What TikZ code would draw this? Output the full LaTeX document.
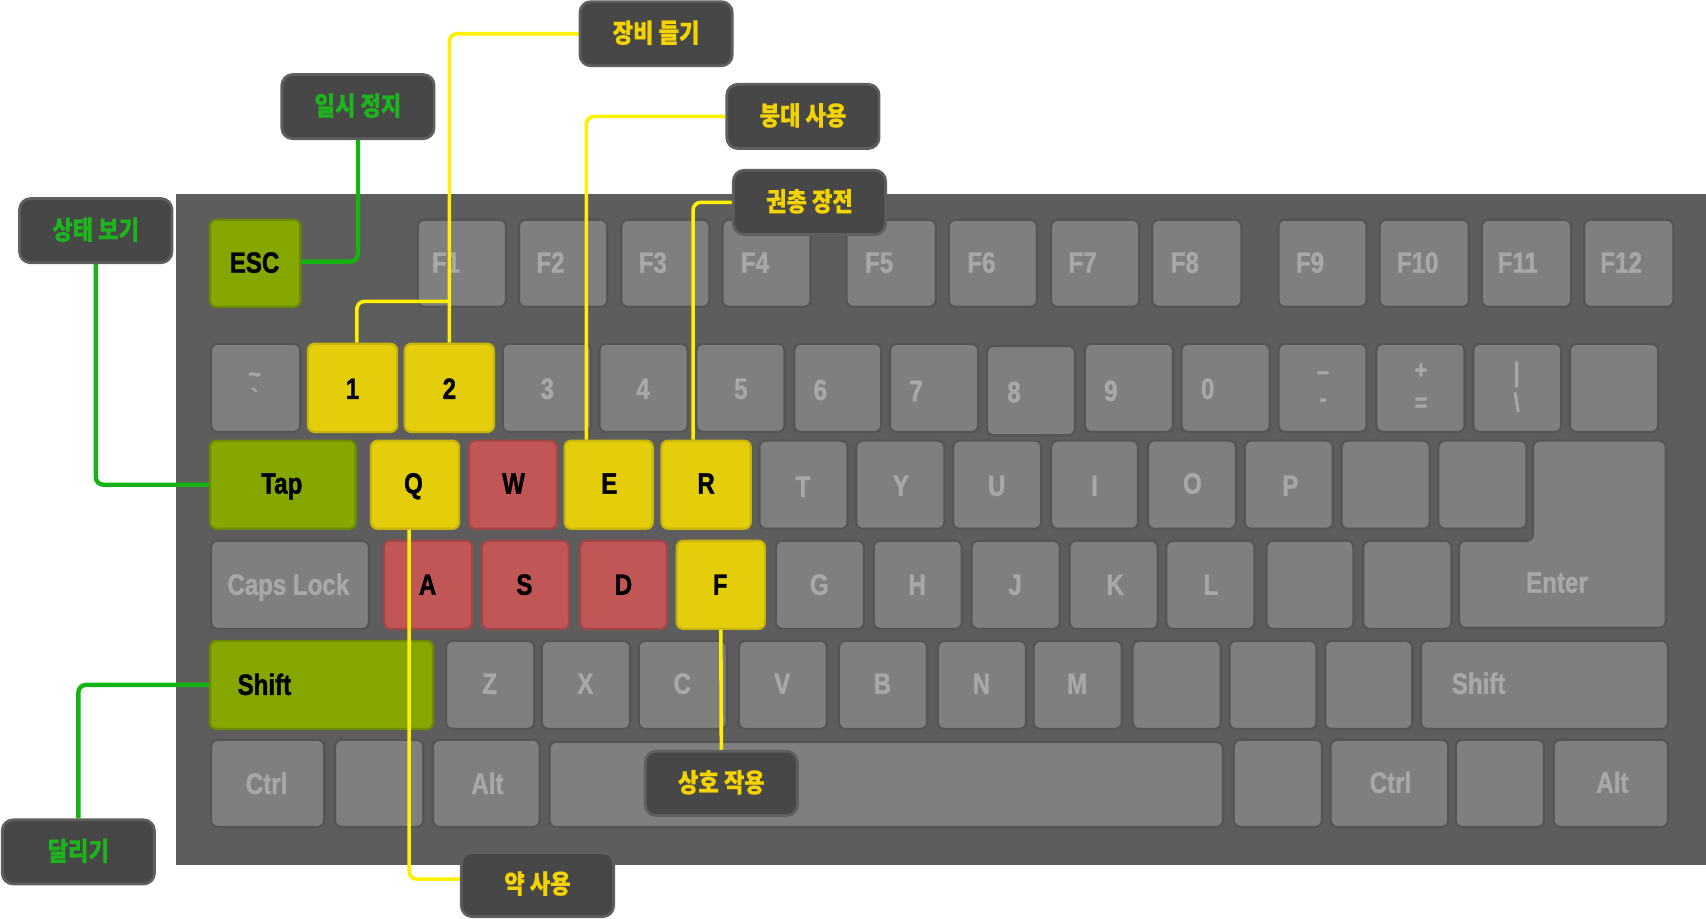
\documentclass[tikz,border=0pt]{standalone}
\usepackage{fontspec}
\newfontfamily\keyf[FakeStretch=0.82,FakeBold=1.2]{Liberation Sans}
\newfontfamily\krf[FakeStretch=0.85,FakeBold=0.6]{Noto Sans CJK KR}
\definecolor{kbbg}{HTML}{5D5D5D}
\definecolor{keyfill}{HTML}{7F7F7F}
\definecolor{keyedge}{HTML}{555555}
\definecolor{keytext}{HTML}{A8A8A8}
\definecolor{gfill}{HTML}{86A600}
\definecolor{gedge}{HTML}{6E8A00}
\definecolor{yfill}{HTML}{E4CE0B}
\definecolor{yedge}{HTML}{C8B40A}
\definecolor{rfill}{HTML}{C15656}
\definecolor{redge}{HTML}{A34646}
\definecolor{cfill}{HTML}{474747}
\definecolor{cedge}{HTML}{5F5F5F}
\definecolor{ytext}{HTML}{F2D200}
\definecolor{gtext}{HTML}{1DB41D}
\definecolor{ylinec}{HTML}{FFF000}
\definecolor{glinec}{HTML}{14B414}
\pgfdeclarelayer{bg}
\pgfdeclarelayer{mid}
\pgfsetlayers{bg,mid,main}
\tikzset{
  key/.style={draw=keyedge, fill=keyfill, line width=2pt, rounded corners=6pt, inner sep=0pt},
  gkey/.style={key, draw=gedge, fill=gfill},
  ykey/.style={key, draw=yedge, fill=yfill},
  rkey/.style={key, draw=redge, fill=rfill},
  key label/.style={font=\keyf\bfseries\fontsize{27}{27}\selectfont, text=keytext, inner sep=0pt, text height=19.3pt, text depth=0pt},
  gkey label/.style={key label, text=black},
  ykey label/.style={key label, text=black},
  rkey label/.style={key label, text=black},
  small label/.style={key label, font=\keyf\bfseries\fontsize{24}{24}\selectfont, text height=12pt},
  call/.style={draw=cedge, fill=cfill, line width=2.5pt, rounded corners=10pt, minimum width=140pt, minimum height=59pt, inner sep=0pt, font=\krf\bfseries\fontsize{24}{24}\selectfont, text height=18pt, text depth=2pt},
  ycall/.style={call, text=ytext},
  gcall/.style={call, text=gtext},
  yl/.style={draw=ylinec, line width=3.3pt, rounded corners=7pt},
  gl/.style={draw=glinec, line width=4pt, rounded corners=7pt},
}
\newcommand\kk[9]{%
  \node[#6, minimum width={#3-#2}, minimum height={#5-#4}] (#1) at ({(#2+#3)/2},{(#4+#5)/2}) {};
  \node[#6 label] at (#8,#9) {#7};}
\newcommand\kb[6]{%
  \node[#6, minimum width={#3-#2}, minimum height={#5-#4}] (#1) at ({(#2+#3)/2},{(#4+#5)/2}) {};}
\begin{document}
\begin{tikzpicture}[x=1pt,y=-1pt]
\useasboundingbox (0,0) rectangle (1568,844);
\begin{pgfonlayer}{bg}
\fill[kbbg] (162,178) rectangle (1568,795);
% row 0
\kk{esc}{193}{276}{202}{282}{gkey}{ESC}{234}{241}
\kk{f1}{384}{465}{202}{282}{key}{F1}{410}{241}
\kk{f2}{477}{558}{202}{282}{key}{F2}{506}{241}
\kk{f3}{571}{652}{202}{282}{key}{F3}{600}{241}
\kk{f4}{664}{745}{202}{282}{key}{F4}{694}{241}
\kk{f5}{778}{860}{202}{282}{key}{F5}{808}{241}
\kk{f6}{872}{953}{202}{282}{key}{F6}{902}{241}
\kk{f7}{966}{1047}{202}{282}{key}{F7}{995}{241}
\kk{f8}{1059}{1141}{202}{282}{key}{F8}{1089}{241}
\kk{f9}{1175}{1256}{202}{282}{key}{F9}{1204}{241}
\kk{f10}{1268}{1350}{202}{282}{key}{F10}{1303}{241}
\kk{f11}{1362}{1444}{202}{282}{key}{F11}{1395}{241}
\kk{f12}{1456}{1538}{202}{282}{key}{F12}{1490}{241}
% row 1
\kb{ktilde}{194}{276}{316}{397}{key}
\node[small label] at (234,346) {\char`\~};
\node[small label] at (234,368) {`};
\kk{k1}{283}{365}{316}{397}{ykey}{1}{324}{357}
\kk{k2}{372}{454}{316}{397}{ykey}{2}{413}{357}
\kk{k3}{462}{543}{316}{397}{key}{3}{503}{357}
\kk{k4}{551}{632}{316}{397}{key}{4}{591}{357}
\kk{k5}{640}{721}{316}{397}{key}{5}{681}{357}
\kk{k6}{730}{810}{316}{397}{key}{6}{754}{358}
\kk{k7}{818}{899}{316}{397}{key}{7}{842}{359}
\kk{k8}{907}{988}{318}{400}{key}{8}{932}{360}
\kk{k9}{997}{1078}{316}{397}{key}{9}{1021}{359}
\kk{k0}{1086}{1167}{316}{397}{key}{0}{1110}{357}
\kb{kminus}{1175}{1256}{316}{397}{key}
\node[small label] at (1216,343) {–};
\node[small label] at (1216,368) {-};
\kb{kplus}{1265}{1346}{316}{397}{key}
\node[small label] at (1306,342) {+};
\node[small label] at (1306,372) {=};
\kb{kbar}{1354}{1435}{316}{397}{key}
\node[small label] at (1394,344) {|};
\node[small label] at (1394,372) {\char`\\};
\kb{kbs}{1443}{1524}{316}{397}{key}
% row 2
\kk{tap}{193}{327}{405}{486}{gkey}{Tap}{259}{444}
\kk{kq}{341}{422}{405}{486}{ykey}{Q}{380}{444}
\kk{kw}{431}{512}{405}{486}{rkey}{W}{472}{444}
\kk{ke}{519}{600}{405}{486}{ykey}{E}{560}{444}
\kk{kr}{608}{690}{405}{486}{ykey}{R}{649}{444}
\kk{kt}{698}{779}{405}{486}{key}{T}{738}{447}
\kk{ky}{787}{868}{405}{486}{key}{Y}{828}{446}
\kk{ku}{876}{957}{405}{486}{key}{U}{916}{446}
\kk{ki}{966}{1046}{405}{486}{key}{I}{1006}{446}
\kk{ko}{1055}{1136}{405}{486}{key}{O}{1096}{444}
\kk{kp}{1144}{1225}{405}{486}{key}{P}{1186}{446}
\kb{klb}{1233}{1314}{405}{486}{key}
\kb{krb}{1322}{1403}{405}{486}{key}
\draw[key] (1409,405) -- (1531,405) -- (1531,577) -- (1341,577) -- (1341,497) -- (1409,497) -- cycle;
\node[key label] (enter) at (1431,535) {Enter};
% row 3
\kk{caps}{194}{339}{497}{578}{key}{Caps Lock}{265}{537}
\kk{ka}{353}{434}{497}{578}{rkey}{A}{393}{537}
\kk{ks}{443}{523}{497}{578}{rkey}{S}{482}{537}
\kk{kd}{533}{613}{497}{578}{rkey}{D}{573}{537}
\kk{kf}{622}{703}{497}{578}{ykey}{F}{662}{537}
\kk{kg}{713}{794}{497}{578}{key}{G}{753}{537}
\kk{kh}{803}{884}{497}{578}{key}{H}{843}{537}
\kk{kj}{893}{974}{497}{578}{key}{J}{933}{537}
\kk{kk}{983}{1064}{497}{578}{key}{K}{1025}{537}
\kk{kl}{1072}{1153}{497}{578}{key}{L}{1113}{537}
\kb{ksemi}{1164}{1244}{497}{578}{key}
\kb{kquote}{1253}{1334}{497}{578}{key}
% row 4
\kk{lshift}{193}{398}{589}{670}{gkey}{Shift}{243}{629}
\kk{kz}{410}{491}{589}{670}{key}{Z}{450}{628}
\kk{kx}{498}{579}{589}{670}{key}{X}{538}{628}
\kk{kc}{587}{668}{589}{670}{key}{C}{627}{628}
\kk{kv}{679}{760}{589}{670}{key}{V}{719}{628}
\kk{kbk}{771}{852}{589}{670}{key}{B}{811}{628}
\kk{kn}{862}{943}{589}{670}{key}{N}{902}{628}
\kk{km}{950}{1031}{589}{670}{key}{M}{990}{628}
\kb{kcomma}{1041}{1122}{589}{670}{key}
\kb{kperiod}{1130}{1210}{589}{670}{key}
\kb{kslash}{1218}{1298}{589}{670}{key}
\kk{rshift}{1306}{1533}{589}{670}{key}{Shift}{1359}{628}
% row 5
\kk{lctrl}{194}{298}{680}{760}{key}{Ctrl}{245}{720}
\kb{lwin}{308}{389}{680}{760}{key}
\kk{lalt}{398}{496}{680}{760}{key}{Alt}{448}{720}
\kb{space}{505}{1124}{682}{760}{key}
\kb{rwin}{1134}{1215}{680}{760}{key}
\kk{rctrl}{1223}{1331}{680}{760}{key}{Ctrl}{1278}{719}
\kb{menu}{1338}{1419}{680}{760}{key}
\kk{ralt}{1428}{1533}{680}{760}{key}{Alt}{1482}{719}
\end{pgfonlayer}
% callouts
\node[ycall] (jangbi) at (603,31) {장비 들기};
\node[gcall] (ilsi) at (329,98) {일시 정지};
\node[ycall] (bungdae) at (738,107) {붕대 사용};
\node[ycall] (gwon) at (744,186) {권총 장전};
\node[gcall] (sangtae) at (88,212) {상태 보기};
\node[ycall] (sangho) at (663,720) {상호 작용};
\node[gcall] (dalligi) at (72,783) {달리기};
\node[ycall] (yak) at (494,813) {약 사용};
% connectors
\begin{pgfonlayer}{mid}
\coordinate (br) at (413,277);
\draw[yl] (jangbi.west) -| (k2.north);
\draw[yl] ([xshift=4pt]k1.north) |- (br);
\draw[yl] (bungdae.west) -| ([xshift=-20.5pt]ke.north);
\draw[yl] (gwon.west) -| ([xshift=-12pt]kr.north);
\draw[yl] ([xshift=-5.5pt]kq.south) |- ([yshift=5pt]yak.west);
\draw[yl] (kf.south) -- (sangho.north);
\draw[gl] (ilsi.south) |- ([yshift=1.5pt]esc.east);
\draw[gl] (sangtae.south) |- (tap.west);
\draw[gl] (lshift.west) -| (dalligi.north);
\end{pgfonlayer}
\end{tikzpicture}
\end{document}
